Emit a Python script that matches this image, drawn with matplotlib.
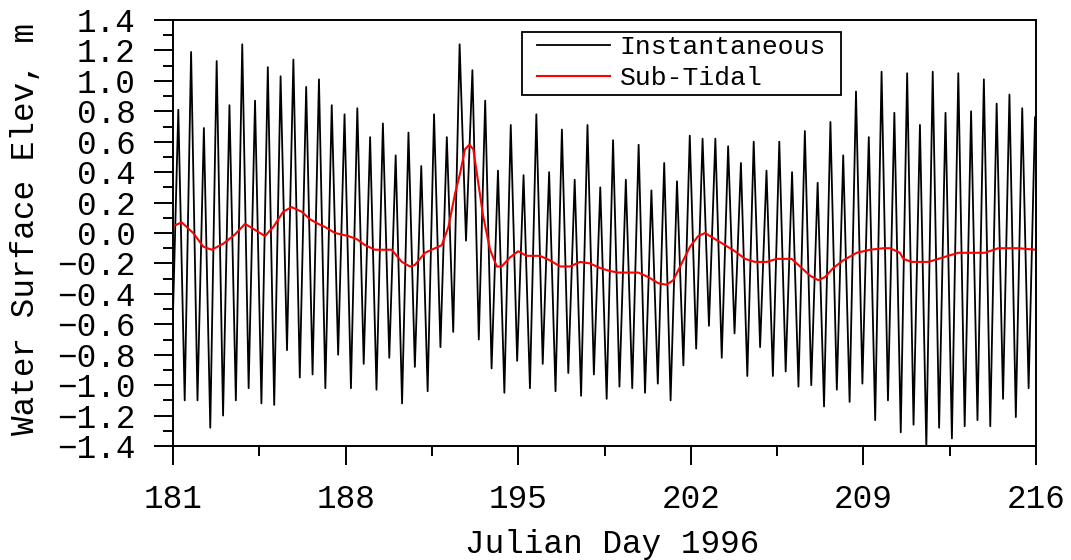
import numpy as np
import matplotlib.pyplot as plt
from matplotlib.patches import Rectangle
from matplotlib.ticker import MultipleLocator

# --- Data ---
# Instantaneous record: alternating tidal highs and lows (m)
first_low = -0.80
highs = [0.81, 1.19, 0.69, 1.13, 0.84, 1.24, 0.87, 1.09, 1.03, 1.14, 0.96, 1.01,
         0.84, 0.78, 0.82, 0.63, 0.72, 0.51, 0.66, 0.44, 0.78, 0.63, 1.24,
         1.07, 0.87, 0.41, 0.71, 0.38, 0.78, 0.40, 0.68, 0.35, 0.71, 0.30,
         0.61, 0.35, 0.58, 0.28, 0.46, 0.34, 0.64, 0.62, 0.62, 0.57, 0.46, 0.60,
         0.41, 0.60, 0.40, 0.67, 0.33, 0.73, 0.51, 0.93, 0.63, 1.06, 0.79,
         1.05, 0.71, 1.06, 0.79, 1.05, 0.80, 1.01, 0.85, 0.91, 0.82, 0.76]
lows = [-1.10, -1.10, -1.28, -1.20, -1.10, -1.02, -1.12, -1.13, -0.77, -0.95, -0.93,
        -1.02, -0.80, -1.02, -0.86, -1.03, -0.82, -1.12, -0.88, -1.04, -0.75, -0.65,
        -0.05, -0.70, -0.89, -1.05, -0.84, -1.02, -0.86, -1.04, -0.92, -1.07, -0.93, -1.09,
        -1.01, -1.02, -1.05, -0.99, -1.10, -0.87, -0.76, -0.61, -0.82, -0.66, -0.94,
        -0.75, -0.94, -0.91, -1.01, -1.00, -1.14, -1.03, -1.11, -0.99, -1.23, -1.10, -1.31,
        -1.26, -1.41, -1.28, -1.35, -1.27, -1.23, -1.27, -1.09, -1.21, -1.02]
first_low_day = 180.956
last_high_day = 215.96

# Sub-tidal (filtered) record
sub_days = [181.08, 181.35, 181.82, 182.23, 182.57, 183.04, 183.51, 183.92, 184.33,
            184.73, 185.07, 185.47, 185.81, 186.22, 186.56, 186.89, 187.16, 187.57,
            188.11, 188.45, 188.79, 189.19, 189.87, 190.28, 190.61, 190.81, 191.22,
            191.49, 191.90, 192.17, 192.44, 192.64, 192.84, 193.02, 193.18, 193.38,
            193.58, 193.86, 194.13, 194.33, 194.67, 195.00, 195.34, 195.88, 196.29,
            196.70, 197.10, 197.51, 197.91, 198.32, 198.72, 199.06, 199.87, 200.28,
            200.68, 201.02, 201.29, 201.63, 201.97, 202.30, 202.58, 202.98, 203.39,
            203.79, 204.20, 204.60, 205.08, 205.48, 206.09, 206.43, 206.83, 207.17,
            207.44, 207.78, 208.18, 208.73, 209.27, 209.81, 210.08, 210.48, 210.62,
            210.96, 211.63, 212.04, 212.44, 212.85, 213.93, 214.47, 215.28, 216.00]
sub_elev = [0.05, 0.07, 0.00, -0.09, -0.11, -0.07, -0.01, 0.06, 0.02,
            -0.02, 0.04, 0.14, 0.17, 0.14, 0.09, 0.06, 0.04, 0.00,
            -0.02, -0.04, -0.08, -0.11, -0.11, -0.19, -0.22, -0.21, -0.13,
            -0.11, -0.08, 0.04, 0.26, 0.39, 0.55, 0.58, 0.55, 0.33,
            0.11, -0.11, -0.22, -0.22, -0.16, -0.12, -0.15, -0.15, -0.18,
            -0.22, -0.22, -0.19, -0.20, -0.23, -0.25, -0.26, -0.26, -0.29,
            -0.33, -0.34, -0.31, -0.20, -0.09, -0.02, 0.00, -0.04, -0.08,
            -0.12, -0.17, -0.19, -0.19, -0.17, -0.17, -0.22, -0.28, -0.31,
            -0.29, -0.23, -0.18, -0.13, -0.11, -0.10, -0.10, -0.13, -0.17,
            -0.19, -0.19, -0.17, -0.15, -0.13, -0.13, -0.10, -0.10, -0.11]


def main() -> None:
    plt.rcParams["font.family"] = ["Liberation Mono", "DejaVu Sans Mono"]
    W, H = 1071, 560

    # interleave low, high, low, high, ... ending on the last high
    inst = [first_low]
    for i, h in enumerate(highs):
        inst.append(h)
        if i < len(lows):
            inst.append(lows[i])
    inst_days = np.linspace(first_low_day, last_high_day, len(inst))

    fig = plt.figure(figsize=(W / 100, H / 100), dpi=100)
    ax = fig.add_axes([173 / W, 114 / H, 863 / W, 426 / H])

    ax.plot(inst_days, inst, color="black", linewidth=1.3, label="Instantaneous")
    ax.plot(sub_days, sub_elev, color="red", linewidth=1.5, label="Sub-Tidal")

    ax.set_xlim(181, 216)
    ax.set_ylim(-1.4, 1.4)
    ax.xaxis.set_major_locator(MultipleLocator(7, offset=181))
    ax.xaxis.set_minor_locator(MultipleLocator(3.5, offset=181))
    ax.yaxis.set_major_locator(MultipleLocator(0.2))
    ax.yaxis.set_minor_locator(MultipleLocator(0.1))
    ax.yaxis.set_major_formatter(plt.FuncFormatter(lambda v, p: f"{v:.1f}".replace("-", "\u2212")))

    for s in ax.spines.values():
        s.set_linewidth(1.4)
    ax.tick_params(which="major", direction="out", length=14, width=1.4,
                   labelsize=23.5, pad=13)
    ax.tick_params(which="minor", direction="out", length=7, width=1.4)
    ax.tick_params(axis="x", which="major", pad=13)

    fig.text(612 / W, 1 - 545 / H, "Julian Day 1996", fontsize=23.5,
             ha="center", va="center")
    fig.text(26 / W, 1 - 229 / H, "Water Surface Elev, m", fontsize=23.5,
             rotation=90, ha="center", va="center")

    # legend box drawn as a plain rectangle, entries placed inside it
    box = Rectangle((522 / W, 1 - 95 / H), 319 / W, 63 / H,
                    transform=fig.transFigure, facecolor="white",
                    edgecolor="black", linewidth=1.3, zorder=5, clip_on=False)
    ax.add_artist(box)
    leg = ax.legend(loc="upper left", bbox_to_anchor=(537 / W, 1 - 35.5 / H),
                    bbox_transform=fig.transFigure, borderaxespad=0, borderpad=0,
                    fontsize=19, frameon=False, handlelength=2.75,
                    handletextpad=0.38, labelspacing=0.25)
    leg.set_zorder(6)

    fig.savefig("out.png", dpi=100, facecolor="white")
    plt.close(fig)


if __name__ == "__main__":
    main()
